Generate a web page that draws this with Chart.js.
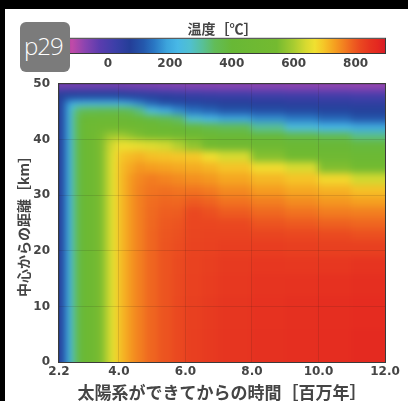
<!DOCTYPE html>
<html>
<head>
<meta charset="utf-8">
<script src="https://cdn.jsdelivr.net/npm/chart.js@4.4.0/dist/chart.umd.min.js"></script>
<style>
  html, body { margin: 0; padding: 0; background: #000; }
  #page { position: absolute; left: 5px; top: 9px; width: 403px; height: 392px; background: #fff; }
  canvas { position: absolute; left: 0; top: 0; }
  .tag {
    position: absolute; left: 20px; top: 22px; width: 50px; height: 50px;
    background: #7b7b7b; border-radius: 6px; color: #fff;
    font: 300 24px 'Open Sans', sans-serif; line-height: 48px;
    padding-left: 4px; box-sizing: border-box; letter-spacing: -1px;
  }
</style>
</head>
<body>
<div id="page"></div>
<canvas id="main" width="408" height="401"></canvas>
<canvas id="bar" width="408" height="80"></canvas>
<div class="tag">p29</div>
<script>
// cell edges: time (Myr) and distance from centre (km)
const timeEdges = [2.2, 2.3, 2.4, 2.5, 2.6, 2.75, 2.9, 3.1, 3.35, 3.6, 3.8, 4.0, 4.25, 4.5, 4.8, 5.2, 5.6, 6.0, 6.5, 7.0, 8.0, 9.0, 10.0, 11.0, 12.0];
const radiusEdges = [0, 6, 12, 16, 19, 22, 24, 26, 28, 30, 32, 34, 36, 38, 40, 41.5, 43, 44.5, 46, 47, 48, 49, 50];

// temperature [°C]: one row per time cell, from the centre out to the surface
const tempByTime = [
  [65, 65, 65, 65, 65, 65, 65, 65, 65, 65, 65, 65, 65, 65, 65, 65, 65, 65, 65, 65, 55, -50],
  [110, 110, 110, 110, 110, 110, 110, 110, 110, 110, 110, 110, 110, 110, 110, 110, 110, 110, 110, 100, 62, -50],
  [170, 170, 170, 170, 170, 170, 170, 170, 170, 170, 170, 170, 170, 170, 170, 170, 170, 170, 165, 112, 64, -50],
  [225, 225, 225, 225, 225, 225, 225, 225, 225, 225, 225, 225, 225, 225, 225, 225, 225, 225, 205, 115, 65, -50],
  [320, 320, 320, 320, 320, 320, 320, 320, 320, 320, 320, 320, 320, 320, 320, 320, 320, 310, 230, 117, 65, -50],
  [390, 390, 390, 390, 390, 390, 390, 390, 390, 390, 390, 390, 390, 390, 390, 390, 385, 345, 235, 118, 65, -50],
  [440, 440, 440, 440, 440, 440, 440, 440, 440, 440, 440, 440, 440, 440, 440, 440, 425, 355, 238, 119, 65, -50],
  [490, 490, 490, 490, 490, 490, 490, 490, 490, 490, 490, 490, 490, 490, 490, 475, 440, 362, 240, 120, 65, -50],
  [555, 555, 555, 555, 555, 555, 555, 555, 555, 555, 555, 555, 555, 555, 550, 500, 447, 366, 240, 120, 65, -50],
  [625, 625, 625, 625, 625, 625, 625, 625, 625, 625, 625, 625, 625, 620, 585, 507, 450, 368, 240, 120, 65, -50],
  [668, 668, 668, 668, 668, 668, 668, 668, 668, 668, 668, 668, 665, 650, 595, 510, 450, 370, 240, 120, 65, -50],
  [712, 712, 712, 712, 712, 712, 712, 712, 712, 712, 712, 709, 700, 665, 590, 505, 434, 364, 232, 110, 59, -52],
  [740, 740, 740, 740, 740, 740, 740, 740, 740, 740, 738, 725, 708, 661, 573, 492, 421, 349, 204, 101, 52, -54],
  [762, 762, 762, 762, 762, 762, 762, 762, 762, 760, 755, 740, 714, 655, 555, 479, 406, 318, 173, 92, 45, -56],
  [785, 785, 785, 785, 785, 785, 783, 781, 778, 772, 765, 734, 703, 647, 535, 461, 387, 253, 138, 82, 38, -58],
  [803, 803, 803, 803, 803, 800, 797, 792, 785, 776, 758, 729, 700, 636, 515, 439, 363, 210, 113, 71, 30, -62],
  [815, 815, 814, 813, 811, 807, 802, 794, 784, 771, 751, 724, 697, 610, 494, 416, 336, 171, 101, 62, 23, -65],
  [828, 827, 826, 824, 822, 820, 818, 815, 795, 772, 747, 721, 695, 575, 470, 390, 259, 145, 90, 53, 16, -68],
  [836, 834, 832, 829, 826, 822, 818, 808, 787, 765, 739, 713, 671, 538, 448, 371, 227, 131, 82, 47, 12, -70],
  [844, 842, 839, 836, 830, 823, 815, 795, 774, 751, 726, 700, 640, 505, 422, 351, 197, 115, 74, 42, 8, -72],
  [852, 850, 846, 840, 831, 819, 803, 783, 762, 736, 711, 672, 562, 468, 394, 306, 172, 103, 66, 36, 2, -74],
  [856, 854, 848, 839, 828, 816, 796, 774, 750, 725, 700, 640, 513, 437, 371, 249, 155, 93, 58, 31, -3, -76],
  [861, 858, 851, 841, 827, 813, 789, 765, 740, 715, 678, 557, 481, 412, 352, 223, 135, 85, 53, 27, -8, -78],
  [866, 863, 855, 845, 827, 807, 785, 762, 732, 702, 635, 517, 453, 389, 314, 204, 114, 77, 47, 23, -15, -80],
];

const xTicks = [2.2, 4.0, 6.0, 8.0, 10.0, 12.0];
const yTicks = [0, 10, 20, 30, 40, 50];
const cbarTicks = [0, 200, 400, 600, 800];
const cbarMin = -155;
const cbarMax = 895;

// colour scale: [temperature, colour]
const cmapStops = [
  [-155, '#9c3a96'], [-116, '#c04aa8'], [-74, '#8a44b0'], [-26, '#5a3cae'],
  [23, '#3c3fa8'], [71, '#243e98'], [115, '#2458ac'], [150, '#2a78c4'],
  [190, '#3ca4dc'], [225, '#48b8e6'], [265, '#50c0d0'], [305, '#58c098'],
  [345, '#62bc58'], [400, '#68b836'], [545, '#74ba30'], [600, '#a8cc30'],
  [640, '#d8da30'], [668, '#f0e030'], [695, '#f5c828'], [732, '#f5a020'],
  [765, '#f27c20'], [790, '#ee6020'], [815, '#ea4820'], [845, '#e63420'],
  [871, '#e42820'], [895, '#d81c28'],
];

const TXT = '#454545';
const NUM_FONT = { family: "'DejaVu Sans', sans-serif", size: 12, weight: 'bold' };
const JP = "'Noto Sans CJK JP', sans-serif";

function hexRgb(h) {
  return [parseInt(h.slice(1, 3), 16), parseInt(h.slice(3, 5), 16), parseInt(h.slice(5, 7), 16)];
}

function tempColor(v) {
  if (v <= cmapStops[0][0]) return cmapStops[0][1];
  for (let i = 1; i < cmapStops.length; i++) {
    const [v1, c1] = cmapStops[i];
    if (v <= v1) {
      const [v0, c0] = cmapStops[i - 1];
      const f = (v - v0) / (v1 - v0);
      const a = hexRgb(c0), b = hexRgb(c1);
      const m = a.map((x, k) => Math.round(x + (b[k] - x) * f));
      return `rgb(${m[0]},${m[1]},${m[2]})`;
    }
  }
  return cmapStops[cmapStops.length - 1][1];
}

// cells go to an offscreen layer first, then get a soft blur like the original render
const heatmapPlugin = {
  id: 'heatmap',
  beforeDraw(chart) {
    const { ctx, chartArea: a, scales: { x, y } } = chart;
    const off = document.createElement('canvas');
    off.width = chart.width;
    off.height = chart.height;
    const o = off.getContext('2d');
    const lastI = tempByTime.length - 1;
    tempByTime.forEach((col, i) => {
      let x0 = Math.floor(x.getPixelForValue(timeEdges[i]));
      let x1 = Math.ceil(x.getPixelForValue(timeEdges[i + 1]));
      if (i === 0) x0 -= 10;
      if (i === lastI) x1 += 10;
      col.forEach((v, j) => {
        let y0 = Math.floor(y.getPixelForValue(radiusEdges[j + 1]));
        let y1 = Math.ceil(y.getPixelForValue(radiusEdges[j]));
        if (j === 0) y1 += 10;
        if (j === col.length - 1) y0 -= 10;
        o.fillStyle = tempColor(v);
        o.fillRect(x0, y0, x1 - x0, y1 - y0);
      });
    });
    ctx.save();
    ctx.beginPath();
    ctx.rect(a.left, a.top, a.right - a.left, a.bottom - a.top);
    ctx.clip();
    ctx.filter = 'blur(3.5px)';
    ctx.drawImage(off, 0, 0);
    ctx.restore();
  },
  afterDraw(chart) {
    const { ctx, chartArea: a } = chart;
    ctx.save();
    ctx.strokeStyle = '#3a3a3a';
    ctx.lineWidth = 1;
    ctx.strokeRect(a.left - 0.5, a.top - 0.5, a.right - a.left + 1, a.bottom - a.top + 1);
    ctx.restore();
  },
};

new Chart(document.getElementById('main'), {
  type: 'scatter',
  data: { datasets: [] },
  options: {
    responsive: false,
    animation: false,
    layout: { padding: { top: 84, right: 23, left: 0, bottom: 0 } },
    plugins: { legend: { display: false }, tooltip: { enabled: false } },
    scales: {
      x: {
        type: 'linear', min: 2.2, max: 12.0,
        afterBuildTicks: s => { s.ticks = xTicks.map(v => ({ value: v })); },
        afterFit: s => { s.height = 39; },
        ticks: { color: TXT, font: NUM_FONT, padding: 3, maxRotation: 0, autoSkip: false, callback: v => v.toFixed(1) },
        grid: { color: 'rgba(40,20,20,0.13)', drawTicks: false },
        border: { display: false },
        title: {
          display: true, text: '太陽系ができてからの時間［百万年］', color: TXT,
          font: { family: JP, size: 17, weight: 'bold', lineHeight: 1 }, padding: { top: 0, bottom: 0 },
        },
      },
      y: {
        type: 'linear', min: 0, max: 50,
        afterBuildTicks: s => { s.ticks = yTicks.map(v => ({ value: v })); },
        afterFit: s => { s.width = 59; },
        ticks: { color: TXT, font: NUM_FONT, padding: 9 },
        grid: { color: 'rgba(40,20,20,0.13)', drawTicks: false },
        border: { display: false },
        title: {
          display: true, text: '中心からの距離［km］', color: TXT,
          font: { family: JP, size: 14, weight: 'bold', lineHeight: 1 }, padding: { top: 17, bottom: 0 },
        },
      },
    },
  },
  plugins: [heatmapPlugin],
});

const colorbarPlugin = {
  id: 'colorbar',
  beforeDatasetsDraw(chart) {
    const { ctx, chartArea: a, scales: { x } } = chart;
    const g = ctx.createLinearGradient(x.getPixelForValue(cbarMin), 0, x.getPixelForValue(cbarMax), 0);
    cmapStops.forEach(([v, c]) => g.addColorStop((v - cbarMin) / (cbarMax - cbarMin), c));
    ctx.save();
    ctx.fillStyle = g;
    ctx.fillRect(a.left, a.top, a.right - a.left, a.bottom - a.top);
    ctx.strokeStyle = '#3a3a3a';
    ctx.lineWidth = 1;
    ctx.strokeRect(a.left - 0.5, a.top - 0.5, a.right - a.left + 1, a.bottom - a.top + 1);
    ctx.restore();
  },
};

new Chart(document.getElementById('bar'), {
  type: 'scatter',
  data: { datasets: [] },
  options: {
    responsive: false,
    animation: false,
    layout: { padding: { top: 20, left: 60, right: 23, bottom: 0 } },
    plugins: {
      legend: { display: false },
      tooltip: { enabled: false },
      title: {
        display: true, text: '温度［℃］', color: TXT,
        font: { family: JP, size: 14, weight: 'bold', lineHeight: 1.2 }, padding: { top: 0, bottom: 2 },
      },
    },
    scales: {
      x: {
        type: 'linear', min: cbarMin, max: cbarMax,
        afterBuildTicks: s => { s.ticks = cbarTicks.map(v => ({ value: v })); },
        afterFit: s => { s.height = 27; },
        ticks: { color: TXT, font: NUM_FONT, padding: 4, maxRotation: 0, autoSkip: false },
        grid: { display: false, drawTicks: false },
        border: { display: false },
      },
      y: { display: false, min: 0, max: 1 },
    },
  },
  plugins: [colorbarPlugin],
});
</script>
</body>
</html>
